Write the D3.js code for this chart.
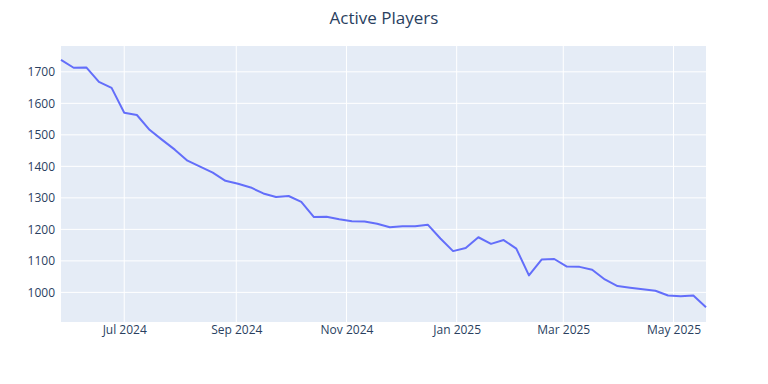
<!DOCTYPE html>
<html>
<head>
  <title>Active Players</title>
  <style>
    html, body { margin:0; padding:0; background:white; }
    svg { display:block; }
  </style>
  <script src="https://d3js.org/d3.v7.min.js"></script>
</head>
<body>
<svg id="canvas" width="768" height="384"></svg>
<script>
  // weekly data, starting Monday 27 May 2024
  var startDate = "2024-05-27";
  var players = [1738, 1713, 1714, 1668, 1649, 1570, 1563, 1516, 1484, 1453,
                 1418, 1399, 1380, 1354, 1345, 1333, 1314, 1303, 1306, 1287,
                 1239, 1240, 1232, 1226, 1225, 1218, 1207, 1210, 1210, 1215,
                 1171, 1131, 1141, 1175, 1154, 1166, 1139, 1054, 1104, 1106,
                 1082, 1081, 1072, 1041, 1020, 1015, 1010, 1005, 990, 988,
                 990, 953];
  var yTicks = [1000, 1100, 1200, 1300, 1400, 1500, 1600, 1700];
  var xTicks = ["2024-07-01", "2024-09-01", "2024-11-01", "2025-01-01", "2025-03-01", "2025-05-01"];

  var parse = d3.timeParse("%Y-%m-%d");
  var t0 = parse(startDate);
  var data = players.map(function(v, i) {
    return { date: d3.timeDay.offset(t0, i * 7), value: v };
  });

  var svg = d3.select("#canvas");
  var margin = {top: 46, right: 62, bottom: 62, left: 61};
  var width = 768 - margin.left - margin.right,
      height = 384 - margin.top - margin.bottom;
  var font = "'Open Sans', verdana, arial, sans-serif";

  var x = d3.scaleTime()
    .domain(d3.extent(data, function(d) { return d.date; }))
    .range([0, width]);
  var y = d3.scaleLinear()
    .domain([906, 1782])
    .range([height, 0]);

  var g = svg.append("g").attr("transform", "translate(" + margin.left + "," + margin.top + ")");

  g.append("rect")
    .attr("width", width)
    .attr("height", height)
    .attr("fill", "#e5ecf6");

  // gridlines
  g.append("g").selectAll("line")
    .data(yTicks).enter().append("line")
    .attr("x1", 0).attr("x2", width)
    .attr("y1", function(d) { return y(d); })
    .attr("y2", function(d) { return y(d); })
    .attr("stroke", "white").attr("stroke-width", 1);
  g.append("g").selectAll("line")
    .data(xTicks.map(parse)).enter().append("line")
    .attr("y1", 0).attr("y2", height)
    .attr("x1", function(d) { return x(d); })
    .attr("x2", function(d) { return x(d); })
    .attr("stroke", "white").attr("stroke-width", 1);

  // axes (labels only)
  var yAxis = g.append("g")
    .call(d3.axisLeft(y).tickValues(yTicks).tickSize(0).tickPadding(6).tickFormat(d3.format("d")));
  var xAxis = g.append("g")
    .attr("transform", "translate(0," + height + ")")
    .call(d3.axisBottom(x).tickValues(xTicks.map(parse)).tickSize(0).tickPadding(3)
      .tickFormat(d3.timeFormat("%b %Y")));
  [xAxis, yAxis].forEach(function(a) {
    a.select(".domain").remove();
    a.selectAll("text")
      .style("font-family", font)
      .style("font-size", "12px")
      .attr("fill", "#2a3f5f");
  });

  var line = d3.line()
    .x(function(d) { return x(d.date); })
    .y(function(d) { return y(d.value); });

  g.append("path")
    .datum(data)
    .attr("d", line)
    .attr("fill", "none")
    .attr("stroke", "#636efa")
    .attr("stroke-width", 2)
    .attr("stroke-linejoin", "round");

  svg.append("text").text("Active Players")
    .attr("x", 384)
    .attr("y", 24)
    .attr("text-anchor", "middle")
    .style("fill", "#2a3f5f")
    .style("font-family", font)
    .style("font-size", "17px");
</script>
</body>
</html>
